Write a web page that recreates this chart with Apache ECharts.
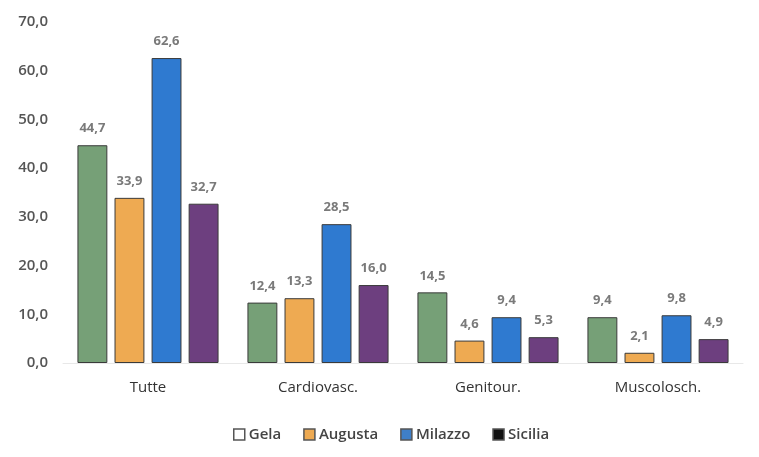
<!DOCTYPE html>
<html><head><meta charset="utf-8">
<script src="https://cdn.jsdelivr.net/npm/echarts@6/dist/echarts.min.js"></script>
<style>html,body{margin:0;padding:0;background:#fff}#c{width:759px;height:457px}</style>
</head><body><div id="c"></div>
<script>
var categories = ['Tutte', 'Cardiovasc.', 'Genitour.', 'Muscolosch.'];
var seriesNames = ['Gela', 'Augusta', 'Milazzo', 'Sicilia'];
var gela = [44.7, 12.4, 14.5, 9.4];
var augusta = [33.9, 13.3, 4.6, 2.1];
var milazzo = [62.6, 28.5, 9.4, 9.8];
var sicilia = [32.7, 16.0, 5.3, 4.9];
var yTicks = [0, 10, 20, 30, 40, 50, 60, 70];

var barColors = ['#76a077', '#eeaa52', '#2f7ad0', '#6d3f7f'];
var legendColors = ['#ffffff', '#eeaa52', '#3f7fc8', '#111111'];
var values = [gela, augusta, milazzo, sicilia];

function fmt(v){ return v.toFixed(1).replace('.', ','); }

var chart = echarts.init(document.getElementById('c'));
chart.setOption({
  animation: false,
  grid: { left: 63, right: 16, top: 22, bottom: 94 },
  legend: {
    top: 422, left: 228, itemWidth: 11, itemHeight: 11, itemGap: 22,
    textStyle: { color: '#444', fontSize: 15, fontFamily: 'Open Sans', fontWeight: 600, padding: [0,0,0,-1] },
    data: seriesNames.map(function(n, i){
      return { name: n, icon: 'rect', itemStyle: { color: legendColors[i], borderColor: '#555', borderWidth: 1.5 } };
    })
  },
  xAxis: {
    type: 'category', data: categories,
    axisLine: { show: true, lineStyle: { color: '#e8e8e8' } },
    axisTick: { show: false },
    axisLabel: { color: '#333', fontSize: 15, fontFamily: 'Open Sans', margin: 17 }
  },
  yAxis: {
    type: 'value', min: yTicks[0], max: yTicks[yTicks.length-1], interval: 10,
    splitLine: { show: false },
    axisLine: { show: false }, axisTick: { show: false },
    axisLabel: { color: '#555', fontSize: 15, fontFamily: 'Open Sans', fontWeight: 600, margin: 15, formatter: function(v){ return fmt(v); } }
  },
  series: seriesNames.map(function(n, i){
    return {
      name: n, type: 'bar', data: values[i],
      barGap: '24%', barCategoryGap: '17%',
      itemStyle: { color: barColors[i], borderColor: '#3a3a3a', borderWidth: 1 },
      label: { show: true, position: 'top', distance: 10, color: '#7a7a7a', fontSize: 13, fontWeight: 'bold', fontFamily: 'Open Sans', formatter: function(p){ return fmt(p.value); } }
    };
  })
});
</script></body></html>
